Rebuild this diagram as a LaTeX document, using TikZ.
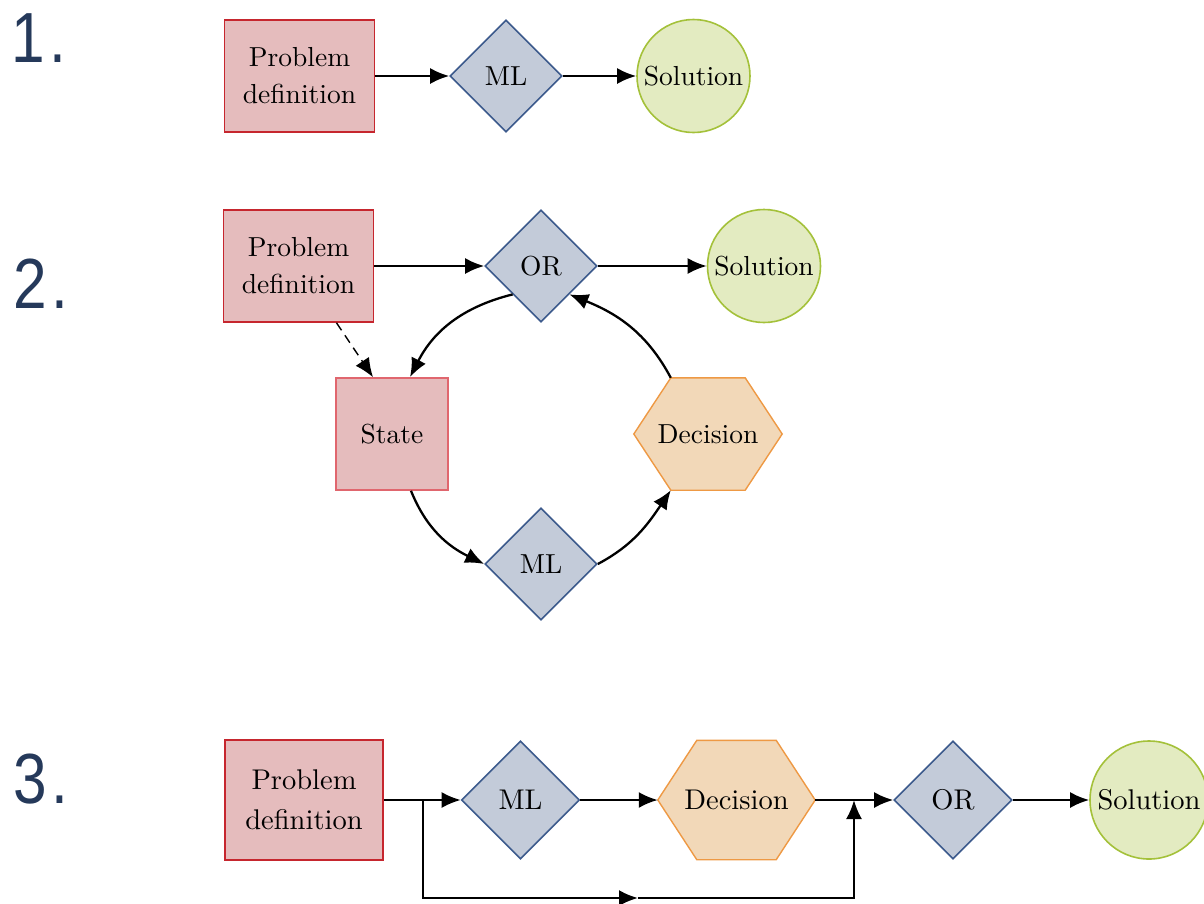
\documentclass[tikz,border=0pt]{standalone}
\usepackage{fontspec}
\usepackage{graphicx}
\usetikzlibrary{shapes.geometric,arrows.meta,calc}
% 10pt design of Latin Modern, scaled up for the node labels
\setmainfont{lmroman10-regular}[Extension=.otf]
\newfontfamily\numfont{Liberation Sans}

\definecolor{pdfill}{HTML}{E5BCBD}
\definecolor{pdred}{HTML}{C6262E}
\definecolor{stred}{HTML}{E0666E}
\definecolor{diafill}{HTML}{C3CBD9}
\definecolor{diablue}{HTML}{3C5A8C}
\definecolor{solfill}{HTML}{E3EBC1}
\definecolor{solgreen}{HTML}{A4C13A}
\definecolor{hexfill}{HTML}{F2D8B8}
\definecolor{hexorange}{HTML}{EE9944}
\definecolor{numblue}{HTML}{25395A}

\pgfdeclarelayer{background}
\pgfsetlayers{background,main}

\tikzset{
  base/.style={font=\fontsize{27.5}{37}\selectfont, text=black, align=center, inner sep=0pt},
  big/.style={font=\fontsize{28.5}{40}\selectfont},
  probbox/.style={base, rectangle, draw=pdred, fill=pdfill, line width=1.6pt,
    minimum width=150pt, minimum height=112pt},
  statebox/.style={probbox, draw=stred, minimum width=112pt},
  dia/.style={base, diamond, aspect=1, draw=diablue, fill=diafill, line width=1.6pt,
    minimum width=112pt, minimum height=112pt},
  sol/.style={base, circle, draw=solgreen, fill=solfill, line width=1.6pt, minimum size=113pt},
  hexbox/.style={base, rectangle, minimum width=148pt, minimum height=112pt},
  hexline/.style={draw=hexorange, fill=hexfill, line width=1.4pt},
  flow/.style={line width=2.3pt, -{Latex[length=19pt,width=16pt]}},
  dashflow/.style={flow, line width=1.4pt, dash pattern=on 9pt off 6pt},
  num/.style={font=\numfont\fontsize{71}{71}\selectfont, text=numblue, inner sep=0pt, anchor=base west}
}

% hexagon drawn behind a rectangular node, corners inset by #2
\newcommand{\hexframe}[2]{%
  \begin{pgfonlayer}{background}
    \path[hexline] (#1.west) -- ([xshift=#2]#1.north west) -- ([xshift=-#2]#1.north east)
      -- (#1.east) -- ([xshift=-#2]#1.south east) -- ([xshift=#2]#1.south west) -- cycle;
  \end{pgfonlayer}}

\begin{document}
\begin{tikzpicture}[x=1pt,y=1pt]
\useasboundingbox (0,0) rectangle (1204,-903);

% step numbers
\node[num] (n1) at (11,-62) {\scalebox{0.85}[1]{1\kern0.08em.}};
\node[num] (n2) at (13,-308) {\scalebox{0.85}[1]{2\kern0.08em.}};
\node[num] (n3) at (13,-803) {\scalebox{0.85}[1]{3\kern0.08em.}};

% 1. plain pipeline
\node[probbox] (pd1) at (299.5,-76) {Problem\\definition};
\node[dia] (ml1) at (506,-76) {ML};
\node[sol] (sol1) at (693.5,-76) {Solution};
\draw[flow] (pd1.east) -- (ml1.west);
\draw[flow] (ml1.east) -- (sol1.west);

% 2. learning inside the optimisation loop
\node[probbox] (pd2) at (298.5,-266) {Problem\\definition};
\node[dia] (or2) at (541,-266) {OR};
\node[sol] (sol2) at (764,-266) {Solution};
\node[statebox] (st) at (392,-434) {State};
\node[hexbox] (dec2) at (708,-434) {Decision};
\hexframe{dec2}{37pt}
\node[dia] (ml2) at (541,-564) {ML};

\draw[flow] (pd2.east) -- (or2.west);
\draw[flow] (or2.east) -- (sol2.west);
\draw[dashflow] ([xshift=38pt]pd2.south) -- ([xshift=-19pt]st.north);
\draw[flow] (or2.south west) to[out=194,in=63] ([xshift=18pt]st.north);
\draw[flow] ([xshift=19pt]st.south) to[out=-68,in=154] (ml2.west);
\draw[flow] (ml2.east) to[out=28,in=236] ([xshift=37pt]dec2.south west);
\draw[flow] ([xshift=37pt]dec2.north west) to[out=118,in=-22] (or2.south east);

% 3. learned decision feeding the solver
\node[probbox, big, minimum width=158pt, minimum height=120pt] (pd3) at (304,-800) {Problem\\definition};
\node[dia, big, minimum width=118pt, minimum height=118pt] (ml3) at (520.5,-800) {ML};
\node[hexbox, big, minimum width=157pt, minimum height=119pt] (dec3) at (736.5,-800) {Decision};
\hexframe{dec3}{39pt}
\node[dia, big, minimum width=118pt, minimum height=118pt] (or3) at (953,-800) {OR};
\node[sol, big, minimum size=118pt] (sol3) at (1149,-800) {Solution};

\coordinate (split) at (423,-800);
\coordinate (low) at (638,-898);
\coordinate (join) at (854,-800);

\draw[flow] (pd3.east) -- (ml3.west);
\draw[flow] (ml3.east) -- (dec3.west);
\draw[flow] (dec3.east) -- (or3.west);
\draw[flow] (or3.east) -- (sol3.west);
\draw[flow] (split) |- (low);
\draw[flow] (low) -| (join);
\end{tikzpicture}
\end{document}
